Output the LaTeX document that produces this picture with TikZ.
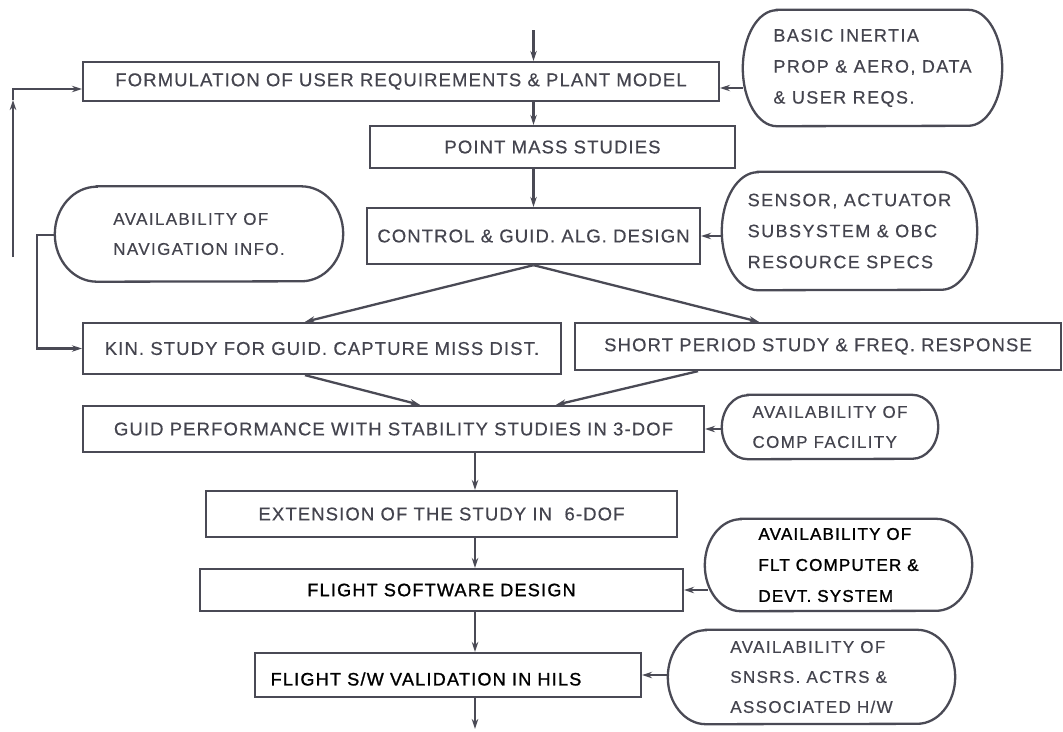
\documentclass[tikz,border=0pt]{standalone}
\usepackage{fontspec}
\setmainfont{Liberation Sans}
\newfontfamily\boxfont[LetterSpace=6,FakeBold=0.5]{Liberation Sans}
\newfontfamily\termfont[LetterSpace=8,FakeBold=0.5]{Liberation Sans}
\newfontfamily\darkfont[LetterSpace=7,FakeBold=1.3]{Liberation Sans}
\usetikzlibrary{arrows.meta}
\definecolor{ink}{HTML}{4A4A55}
\definecolor{txt}{HTML}{44444E}
% stadium outline round a named node: node, x radius, y radius
\newcommand\stadiumshape[3]{%
  \draw[draw=ink, line width=2.3pt] ([xshift=#2]#1.north west) -- ([xshift=-#2]#1.north east)
    arc[start angle=90, end angle=-90, x radius=#2, y radius=#3]
    -- ([xshift=#2]#1.south west)
    arc[start angle=270, end angle=90, x radius=#2, y radius=#3] -- cycle;}
\begin{document}
\begin{tikzpicture}[x=1pt,y=-1pt,
  box/.style={draw=ink, line width=2.3pt, inner sep=0pt, text=txt,
    font=\boxfont\fontsize{18.5}{22}\selectfont},
  darkbox/.style={box, text=black, font=\darkfont\fontsize{18}{22}\selectfont},
  term/.style={inner sep=0pt, text=txt, align=left,
    font=\termfont\fontsize{17}{30}\selectfont},
  bigterm/.style={term, font=\termfont\fontsize{18}{31}\selectfont},
  darkterm/.style={term, text=black, font=\darkfont\fontsize{17}{31}\selectfont},
  arr/.style={draw=ink, line width=2.3pt, -{Stealth[length=10pt,width=6.5pt]}}]

\useasboundingbox (0,0) rectangle (1063,731);

% process boxes
\node[box, minimum width=636pt, minimum height=39pt] (box1) at (401,81.5)
  {FORMULATION OF USER REQUIREMENTS \& PLANT MODEL};
\node[box, minimum width=365pt, minimum height=42pt] (box2) at (552.5,147)
  {POINT MASS STUDIES};
\node[box, minimum width=333pt, minimum height=56pt] (box3) at (533.5,236)
  {CONTROL \& GUID. ALG. DESIGN};
\node[box, minimum width=478pt, minimum height=51pt] (box4) at (322,348.5)
  {KIN. STUDY FOR GUID. CAPTURE MISS DIST.};
\node[box, minimum width=486pt, minimum height=47pt] (box5) at (818,346.5)
  {SHORT PERIOD STUDY \& FREQ. RESPONSE};
\node[box, minimum width=621pt, minimum height=46pt] (box6) at (393.5,429)
  {GUID PERFORMANCE WITH STABILITY STUDIES IN 3-DOF};
\node[box, minimum width=471pt, minimum height=46pt] (box7) at (441.5,514)
  {EXTENSION OF THE STUDY IN \ 6-DOF};
\node[darkbox, minimum width=483pt, minimum height=42pt] (box8) at (441.5,590)
  {FLIGHT SOFTWARE DESIGN};
\node[darkbox, minimum width=386pt, minimum height=44pt] (box9) at (448,675) {};
\node[text=black, font=\darkfont\fontsize{18}{22}\selectfont, inner sep=0pt] (hils) at (426,679)
  {FLIGHT S/W VALIDATION IN HILS};

% terminals (text holders; outlines drawn below)
\node[bigterm, minimum width=259pt, minimum height=116pt] (term1) at (872.5,68)
  {BASIC INERTIA\\PROP \& AERO, DATA\\\& USER REQS.};
\node[bigterm, minimum width=255pt, minimum height=118pt] (term2) at (849.5,231)
  {SENSOR, ACTUATOR\\SUBSYSTEM \& OBC\\RESOURCE SPECS};
\node[term, minimum width=288pt, minimum height=95pt] (term3) at (199,234)
  {AVAILABILITY OF\\NAVIGATION INFO.};
\node[term, minimum width=216pt, minimum height=64pt] (term4) at (830,427)
  {AVAILABILITY OF\\COMP FACILITY};
\node[darkterm, minimum width=267pt, minimum height=92pt] (term5) at (838.5,565)
  {AVAILABILITY OF\\FLT COMPUTER \&\\DEVT. SYSTEM};
\node[term, minimum width=287pt, minimum height=94pt] (term6) at (811.5,677)
  {AVAILABILITY OF\\SNSRS. ACTRS \&\\ASSOCIATED H/W};

\stadiumshape{term1}{34pt}{58pt}
\stadiumshape{term2}{36pt}{59pt}
\stadiumshape{term3}{42pt}{47.5pt}
\stadiumshape{term4}{26pt}{32pt}
\stadiumshape{term5}{36pt}{46pt}
\stadiumshape{term6}{38pt}{47pt}

% helper coordinates
\coordinate (in) at (533.5,30);
\coordinate (t1y) at (0,88);
\coordinate (fb) at (13,257);
\coordinate (fbmid) at (13,100);
\coordinate (fbtop) at (13,89);
\coordinate (navx) at (37,235);
\coordinate (sp) at (475,0);
\coordinate (out) at (475,729);

% connectors
\draw[arr] (in) -- (in |- box1.north);
\draw[arr] (box1.south -| box3.north) -- (box2.north -| box3.north);
\draw[arr] (box2.south -| box3.north) -- (box3.north);
\draw[arr] (term1.west |- t1y) -- (box1.east |- t1y);
\draw[arr] (term2.west |- box3.east) -- (box3.east);
\draw[arr] (fb) -- (fbmid);
\draw[arr] (fbmid) -- (fbtop) -- (box1.west |- fbtop);
\draw[arr] (term3.west |- navx) -- (navx) |- (box4.west);
\draw[arr] (box3.south) -- ([xshift=-17pt]box4.north);
\draw[arr] (box3.south) -- ([xshift=-59pt]box5.north);
\draw[arr] ([xshift=-17pt]box4.south) -- ([xshift=26.5pt]box6.north);
\draw[arr] ([xshift=-120pt]box5.south) -- ([xshift=162.5pt]box6.north);
\draw[arr] (term4.west |- box6.east) -- (box6.east);
\draw[arr] (box6.south -| sp) -- (box7.north -| sp);
\draw[arr] (box7.south -| sp) -- (box8.north -| sp);
\draw[arr, shorten <=-3pt] (term5.west |- box8.east) -- (box8.east);
\draw[arr] (box8.south -| sp) -- (box9.north -| sp);
\draw[arr] (term6.west |- box9.east) -- (box9.east);
\draw[arr] (box9.south -| sp) -- (out);
\end{tikzpicture}
\end{document}
